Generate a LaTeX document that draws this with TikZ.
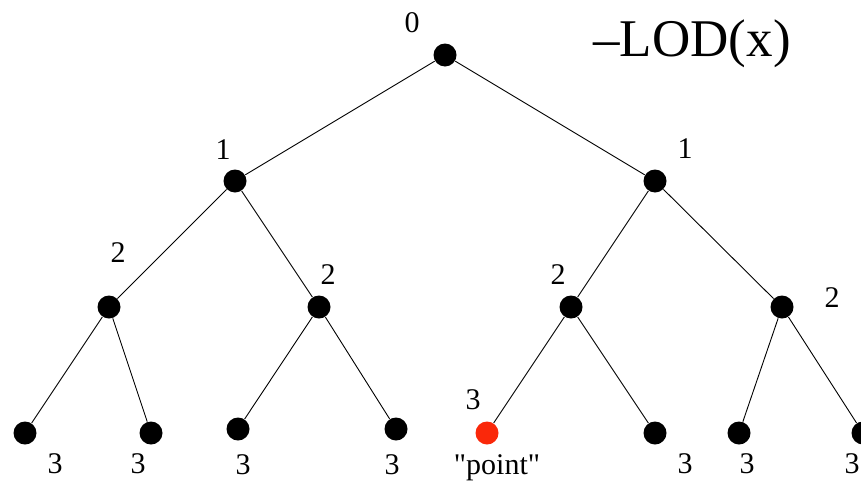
\documentclass[tikz,border=0pt]{standalone}
\usepackage{fontspec}
\setmainfont{Liberation Serif}[Ligatures=TeXOff]
\usetikzlibrary{positioning}

\tikzset{
  dot/.style={circle,fill=black,inner sep=0pt,minimum size=23pt},
  hot/.style={dot,fill=ptred},
  lvl/.style={font=\fontsize{30}{30}\selectfont,inner sep=0pt},
}
\definecolor{ptred}{RGB}{250,40,10}

\begin{document}
\begin{tikzpicture}[x=1pt,y=-1pt,line width=0.9pt]
\useasboundingbox (0,0) rectangle (861,482);
\clip (0,0) rectangle (861,482);
% nodes of the tree
\node[dot] (r) at (445,55) {};
\node[dot] (a) at (235,181) {};
\node[dot] (b) at (655,181) {};
\node[dot] (aa) at (109,307) {};
\node[dot] (ab) at (319,307) {};
\node[dot] (ba) at (571,307) {};
\node[dot] (bb) at (782,307) {};
\node[dot] (aaa) at (25,433) {};
\node[dot] (aab) at (151,433) {};
\node[dot] (aba) at (238,429) {};
\node[dot] (abb) at (396,429) {};
\node[hot] (baa) at (487,433) {};
\node[dot] (bab) at (655,433) {};
\node[dot] (bba) at (739,433) {};
\node[dot] (bbb) at (863,433) {};
% edges
\draw (r) -- (a) (r) -- (b)
      (a) -- (aa) (a) -- (ab) (b) -- (ba) (b) -- (bb)
      (aa) -- (aaa) (aa) -- (aab) (ab) -- (aba) (ab) -- (abb)
      (ba) -- (baa) (ba) -- (bab) (bb) -- (bba) (bb) -- (bbb);
% depth numbers
\node[lvl] (n0) at (412,23) {0};
\node[lvl] (na) at (223,150) {1};
\node[lvl] (nb) at (685,149) {1};
\node[lvl] (naa) at (118,253) {2};
\node[lvl] (nab) at (328,275) {2};
\node[lvl] (nba) at (558,275) {2};
\node[lvl] (nbb) at (832,298) {2};
\node[lvl] (naaa) at (55,464) {3};
\node[lvl] (naab) at (138,464) {3};
\node[lvl] (naba) at (243,465) {3};
\node[lvl] (nabb) at (392,465) {3};
\node[lvl] (nbaa) at (473,400) {3};
\node[lvl] (nbab) at (685,464) {3};
\node[lvl] (nbba) at (747,464) {3};
\node[lvl] (nbbb) at (852,464) {3};
\node[lvl,anchor=base] (pt) at (497,474) {"point"};
% title
\node[font=\fontsize{53}{53}\selectfont,inner sep=0pt,anchor=base west] (lod) at (593,56) {–LOD(x)};
\end{tikzpicture}
\end{document}
